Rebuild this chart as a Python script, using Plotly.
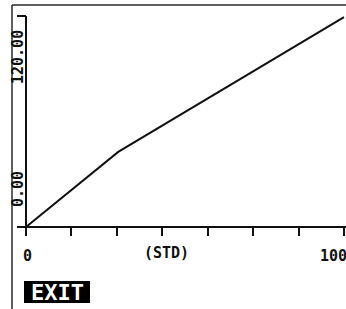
import plotly.graph_objects as go

# Data
x_vals = [0, 29, 100]
y_vals = [0, 42.7, 119.4]
x_ticks = [100 / 7 * k for k in range(8)]
y_ticks = [0, 120]
x_label_lo, x_label_hi, x_title = "0", "100", "(STD)"
y_label_lo, y_label_hi = "0.00", "120.00"
menu_label = "EXIT"

W, H = 346, 309
# mapping: x=0 -> px 26, x=100 -> px 344 ; y=0 -> py 227, y=120 -> py 16
xs = (344 - 26) / 100.0
xmin = -26 / xs
xmax = xmin + W / xs
ys = (227 - 16) / 120.0
ymin = -(H - 227) / ys
ymax = ymin + H / ys

def px(x):
    return x / W

def py(y):
    return 1 - y / H

INK = "#111111"
FONT = "DejaVu Sans Mono"

fig = go.Figure()
fig.add_trace(go.Scatter(x=x_vals, y=y_vals, mode="lines",
                         line=dict(color=INK, width=2), hoverinfo="skip"))

fig.update_layout(
    width=W, height=H, margin=dict(l=0, r=0, t=0, b=0),
    paper_bgcolor="white", plot_bgcolor="rgba(0,0,0,0)", showlegend=False,
    xaxis=dict(range=[xmin, xmax], showgrid=False, zeroline=False, showline=False,
               tickvals=x_ticks, ticks="outside", ticklen=8, tickwidth=2, tickcolor=INK,
               showticklabels=False, anchor="free", position=py(227)),
    yaxis=dict(range=[ymin, ymax], showgrid=False, zeroline=False, showline=False,
               tickvals=y_ticks, ticks="outside", ticklen=9, tickwidth=2, tickcolor=INK,
               showticklabels=False, anchor="free", position=px(26)),
)

shapes = [
    # screen border
    dict(type="line", xref="paper", yref="paper", x0=px(12), x1=px(12), y0=py(5), y1=0,
         line=dict(color="#2a2a2a", width=1.5)),
    dict(type="line", xref="paper", yref="paper", x0=px(12), x1=1, y0=py(5), y1=py(5),
         line=dict(color="#2a2a2a", width=1.5)),
    # axes
    dict(type="line", xref="paper", yref="y", x0=px(18), x1=1, y0=0, y1=0,
         line=dict(color=INK, width=2)),
    dict(type="line", xref="x", yref="y", x0=0, x1=0, y0=-4, y1=120,
         line=dict(color=INK, width=2)),
    # menu box
    dict(type="rect", xref="paper", yref="paper", x0=px(24), x1=px(90), y0=py(303), y1=py(281),
         fillcolor="black", line=dict(width=0), layer="below"),
]
fig.update_layout(shapes=shapes)

ann = [
    dict(x=px(27), y=py(256), text=x_label_lo, font=dict(size=15, color=INK, family=FONT)),
    dict(x=px(166), y=py(253), text=x_title, font=dict(size=15, color=INK, family=FONT)),
    dict(x=px(349), y=py(256), text=x_label_hi, xanchor="right", font=dict(size=15, color=INK, family=FONT)),
    dict(x=px(18), y=py(189), text=y_label_lo, textangle=-90, font=dict(size=15, color=INK, family=FONT)),
    dict(x=px(18), y=py(57), text=y_label_hi, textangle=-90, font=dict(size=15, color=INK, family=FONT)),
    dict(x=px(57), y=py(292), text=menu_label, font=dict(size=22, color="white", family=FONT)),
]
for a in ann:
    a.setdefault("xref", "paper")
    a.setdefault("yref", "paper")
    a.setdefault("xanchor", "center")
    a.setdefault("yanchor", "middle")
    a["showarrow"] = False
    a["font"]["weight"] = "bold"
fig.update_layout(annotations=ann)

fig.write_html("out.html", config={"responsive": False, "displayModeBar": False})

with open("out.html", "r", encoding="utf-8") as f:
    html = f.read()
html = html.replace("<head>", "<head><style>html,body{margin:0;padding:0;overflow:hidden}</style>", 1)
with open("out.html", "w", encoding="utf-8") as f:
    f.write(html)
